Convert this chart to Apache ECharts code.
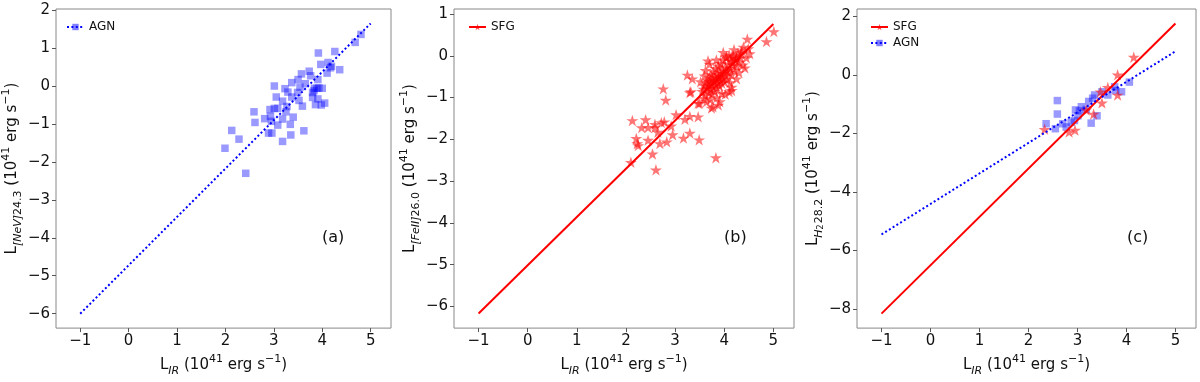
<!DOCTYPE html>
<html>
<head>
<meta charset="utf-8">
<script src="https://cdn.jsdelivr.net/npm/echarts@6/dist/echarts.min.js"></script>
<style>
  html, body { margin: 0; padding: 0; background: #fff; }
  #main { width: 1200px; height: 382px; }
</style>
</head>
<body>
<div id="main"></div>
<script>
// tick labels
var xTicks = [-1, 0, 1, 2, 3, 4, 5];
var yTicksA = [-6, -5, -4, -3, -2, -1, 0, 1, 2];
var yTicksB = [-6, -5, -4, -3, -2, -1, 0, 1];
var yTicksC = [-8, -6, -4, -2, 0, 2];

// fitted relations, end points [L_IR, L_line]
var fitA = [[-1, -6.0], [5, 1.65]];
var fitB = [[-1, -6.17], [5, 0.76]];
var fitCsfg = [[-1, -8.15], [5, 1.75]];
var fitCagn = [[-1, -5.45], [5, 0.8]];

// (a) AGN [NeV]24.3
var agnA = [
  [4.80,1.36],[4.68,1.15],[4.26,0.91],[3.92,0.87],[3.97,0.57],[4.12,0.62],[4.17,0.48],[4.19,0.52],
  [4.36,0.43],[4.10,0.34],[3.73,0.39],[3.76,0.27],[3.57,0.32],[3.50,0.17],[3.91,0.17],[3.37,0.09],
  [3.65,0.06],[3.01,0.00],[3.54,-0.03],[3.23,-0.07],[3.84,-0.06],[3.89,-0.06],[3.93,-0.05],[4.00,-0.06],
  [3.80,-0.17],[3.83,-0.12],[3.49,-0.17],[3.29,-0.16],[3.05,-0.29],[3.37,-0.29],[3.80,-0.30],[3.91,-0.34],
  [3.18,-0.40],[3.52,-0.38],[3.59,-0.53],[3.86,-0.49],[3.98,-0.50],[4.05,-0.45],[3.27,-0.54],[3.01,-0.59],
  [3.08,-0.59],[2.92,-0.62],[2.59,-0.68],[3.25,-0.68],[2.93,-0.80],[3.40,-0.82],[2.81,-0.86],[3.18,-0.87],
  [2.61,-0.96],[2.95,-0.93],[3.08,-1.03],[3.34,-1.01],[2.13,-1.17],[3.62,-1.18],[2.89,-1.24],[2.96,-1.24],
  [3.35,-1.29],[2.28,-1.40],[3.18,-1.46],[1.99,-1.64],[2.42,-2.30]
];

// (b) SFG [FeII]26.0
var sfgB = [
  [5.01,0.58],[4.86,0.34],[4.47,0.40],[4.39,0.21],[4.52,0.05],[4.49,0.17],[4.34,0.08],[4.42,-0.29],
  [4.18,-0.14],[4.05,-0.02],[4.25,-0.06],[4.18,0.01],[3.67,-0.12],[3.84,-0.10],[3.25,-0.46],[3.35,-0.55],
  [3.32,-0.86],[3.30,-0.88],[2.76,-0.79],[2.81,-1.06],[3.02,-1.41],[3.20,-1.52],[3.30,-1.45],[3.47,-1.46],
  [3.47,-1.14],[2.13,-1.55],[2.40,-1.53],[2.32,-1.72],[2.45,-1.72],[2.59,-1.72],[2.59,-1.64],[2.72,-1.60],
  [2.78,-1.58],[2.65,-1.83],[2.92,-1.68],[2.95,-1.89],[3.30,-1.85],[3.17,-1.97],[3.49,-2.01],[2.45,-2.02],
  [2.21,-1.98],[2.23,-2.10],[2.25,-2.15],[2.69,-2.10],[2.83,-2.06],[2.54,-2.35],[2.10,-2.55],[2.61,-2.73],
  [3.83,-2.44],[3.77,-1.22],[3.74,-1.25],[3.91,-1.10],[3.88,-1.18],[3.64,-1.10],[3.50,-1.14],[4.15,-0.75],
  [4.15,-0.83],[4.12,-0.64],
  [3.55,-0.85],[3.58,-0.80],[3.60,-0.72],[3.62,-0.95],[3.63,-0.65],[3.65,-0.78],[3.66,-0.58],[3.68,-0.70],
  [3.69,-0.88],[3.70,-0.52],[3.71,-0.62],[3.72,-0.80],[3.73,-0.45],[3.74,-0.68],[3.75,-0.92],[3.76,-0.55],
  [3.77,-0.75],[3.78,-0.38],[3.79,-0.62],[3.80,-0.85],[3.81,-0.50],[3.82,-0.70],[3.83,-0.30],[3.84,-0.58],
  [3.85,-0.78],[3.86,-0.44],[3.87,-0.65],[3.88,-0.25],[3.89,-0.52],[3.90,-0.72],[3.91,-0.40],[3.92,-0.60],
  [3.93,-0.18],[3.94,-0.48],[3.95,-0.66],[3.96,-0.33],[3.97,-0.55],[3.98,-0.10],[3.99,-0.42],[4.00,-0.62],
  [4.02,-0.28],[4.03,-0.48],[4.04,-0.05],[4.05,-0.36],[4.06,-0.56],[4.08,-0.20],[4.09,-0.40],[4.10,0.02],
  [4.12,-0.30],[4.13,-0.12],[4.15,-0.45],[4.17,-0.22],[4.19,-0.02],[4.21,-0.35],[4.23,-0.10],[4.26,-0.25],
  [4.28,0.05],[4.30,-0.15],[4.33,-0.05],[4.36,0.12],[4.38,-0.22],
  [3.62,-0.35],[3.70,-0.20],[3.95,-0.90],[4.10,-0.86],[4.25,-0.55],[3.85,-1.00],[4.02,-0.92],[3.60,-0.48],
  [4.30,-0.40],[3.58,-1.02],[4.45,-0.05],[3.72,-1.05],[4.20,0.15],[3.98,0.08],[3.52,-0.62]
];

// (c) H2 28.2
var sfgC = [
  [4.15,0.60],[3.82,0.00],[3.62,-0.43],[3.47,-0.58],[3.82,-0.69],[3.50,-0.96],[3.18,-1.20],[3.33,-1.34],
  [2.33,-1.86],[2.83,-1.95],[2.95,-1.89]
];
var agnC = [
  [4.06,-0.25],[3.90,-0.58],[3.76,-0.41],[3.78,-0.54],[3.62,-0.69],[3.50,-0.58],[3.35,-0.69],[3.31,-0.80],
  [3.23,-0.91],[3.08,-1.09],[3.04,-1.23],[2.96,-1.20],[3.01,-1.40],[2.94,-1.56],[2.87,-1.62],[2.77,-1.78],
  [2.70,-1.67],[2.55,-1.84],[2.36,-1.67],[2.59,-0.88],[2.59,-1.34],[3.28,-1.65],[3.40,-1.40],[3.18,-1.18]
];

var FONT = 'DejaVu Sans';
var STAR = 'path://M50,0 L61.2,34.5 L97.6,34.5 L68.2,55.9 L79.4,90.5 L50,69.1 L20.6,90.5 L31.8,55.9 L2.4,34.5 L38.8,34.5 Z';
var BLUE_A = 'rgba(0,0,255,0.5)';
var RED_A = 'rgba(255,0,0,0.68)';

function fmt(v) { return v < 0 ? '\u2212' + Math.abs(v) : String(v); }

var rich = {
  m: { fontSize: 15, fontFamily: FONT, color: '#111', lineHeight: 23 },
  i: { fontSize: 11, fontFamily: FONT, fontStyle: 'italic', color: '#111', verticalAlign: 'bottom', lineHeight: 11 },
  s: { fontSize: 11, fontFamily: FONT, color: '#111', verticalAlign: 'bottom', lineHeight: 11 },
  t: { fontSize: 8, fontFamily: FONT, color: '#111', verticalAlign: 'bottom', lineHeight: 6, padding: [0, 1, 0, 0] },
  p: { fontSize: 11, fontFamily: FONT, color: '#111', verticalAlign: 'top', lineHeight: 11 }
};

var tail = '{m| (10}{p|41}{m| erg s}{p|\u22121}{m|)}';
var xName = '{m|L}{i|IR}' + tail;
var yNames = [
  '{m|L}{i|[NeV]}{s|24.3}' + tail,
  '{m|L}{i|[FeII]}{s|26.0}' + tail,
  '{m|L}{i|H}{t|2}{s|28.2}' + tail
];
var yTicks = [yTicksA, yTicksB, yTicksC];
var yRange = [[-6.38, 2.03], [-6.52, 1.12], [-8.645, 2.245]];
var yGap = [30, 30, 30];

var grids = [
  { left: 52, top: 9, width: 339, height: 330 },
  { left: 454, top: 9, width: 340, height: 330 },
  { left: 857, top: 9, width: 339, height: 330 }
];
grids.forEach(function (g) {
  g.show = true; g.borderColor = '#888'; g.borderWidth = 1; g.backgroundColor = '#fff';
});

var xAxes = [], yAxes = [];
for (var k = 0; k < 3; k++) {
  xAxes.push({
    type: 'value', gridIndex: k, min: -1.5, max: 5.42, position: 'bottom',
    name: xName, nameLocation: 'middle', nameGap: 24,
    nameTextStyle: { rich: rich },
    axisLine: { show: false, onZero: false },
    axisTick: { show: true, length: 4, customValues: xTicks, lineStyle: { color: '#555' } },
    axisLabel: { customValues: xTicks, formatter: fmt, fontSize: 15, fontFamily: FONT, color: '#111', margin: 6 },
    splitLine: { show: false }
  });
  yAxes.push({
    type: 'value', gridIndex: k, min: yRange[k][0], max: yRange[k][1], position: 'left',
    name: yNames[k], nameLocation: 'middle', nameGap: yGap[k], nameRotate: 90,
    nameTextStyle: { rich: rich },
    axisLine: { show: false, onZero: false },
    axisTick: { show: true, length: 4, customValues: yTicks[k], lineStyle: { color: '#555' } },
    axisLabel: { customValues: yTicks[k], formatter: fmt, fontSize: 15, fontFamily: FONT, color: '#111', margin: 6 },
    splitLine: { show: false }
  });
}

function fitLine(name, data, idx, color, dotted) {
  return {
    name: name, type: 'line', data: data, xAxisIndex: idx, yAxisIndex: idx,
    symbol: dotted ? 'rect' : STAR, symbolKeepAspect: true, symbolSize: dotted ? 7 : 11,
    showSymbol: false, z: 4, silent: true,
    itemStyle: { color: dotted ? BLUE_A : RED_A },
    lineStyle: { color: color, width: 2, type: dotted ? [2, 2.4] : 'solid', cap: 'butt' }
  };
}
function points(name, data, idx, star) {
  return {
    name: name, type: 'scatter', data: data, xAxisIndex: idx, yAxisIndex: idx,
    symbol: star ? STAR : 'rect', symbolKeepAspect: true, symbolSize: star ? 12 : 7.5,
    z: star ? 3 : 2,
    itemStyle: { color: star ? RED_A : BLUE_A }
  };
}

var legendBase = {
  itemWidth: 17, itemHeight: 8, itemGap: 4,
  textStyle: { fontSize: 12, fontFamily: FONT, color: '#111' }
};

var option = {
  animation: false,
  backgroundColor: '#fff',
  grid: grids,
  xAxis: xAxes,
  yAxis: yAxes,
  legend: [
    Object.assign({ data: ['AGN'], left: 61, top: 16 }, legendBase),
    Object.assign({ data: ['SFG'], left: 463, top: 16 }, legendBase),
    Object.assign({ data: ['SFG', 'AGN'], left: 865, top: 16, orient: 'vertical' }, legendBase)
  ],
  series: [
    fitLine('AGN', fitA, 0, '#0000ff', true),
    fitLine('SFG', fitB, 1, '#ff0000', false),
    fitLine('SFG', fitCsfg, 2, '#ff0000', false),
    fitLine('AGN', fitCagn, 2, '#0000ff', true),
    points('AGN', agnA, 0, false),
    points('SFG', sfgB, 1, true),
    points('AGN', agnC, 2, false),
    points('SFG', sfgC, 2, true)
  ],
  graphic: [
    { type: 'text', left: 322, top: 230, style: { text: '(a)', font: '16px DejaVu Sans', fill: '#111' } },
    { type: 'text', left: 724, top: 230, style: { text: '(b)', font: '16px DejaVu Sans', fill: '#111' } },
    { type: 'text', left: 1127, top: 230, style: { text: '(c)', font: '16px DejaVu Sans', fill: '#111' } }
  ]
};

var chart = echarts.init(document.getElementById('main'), null, { renderer: 'canvas' });
chart.setOption(option);
</script>
</body>
</html>
